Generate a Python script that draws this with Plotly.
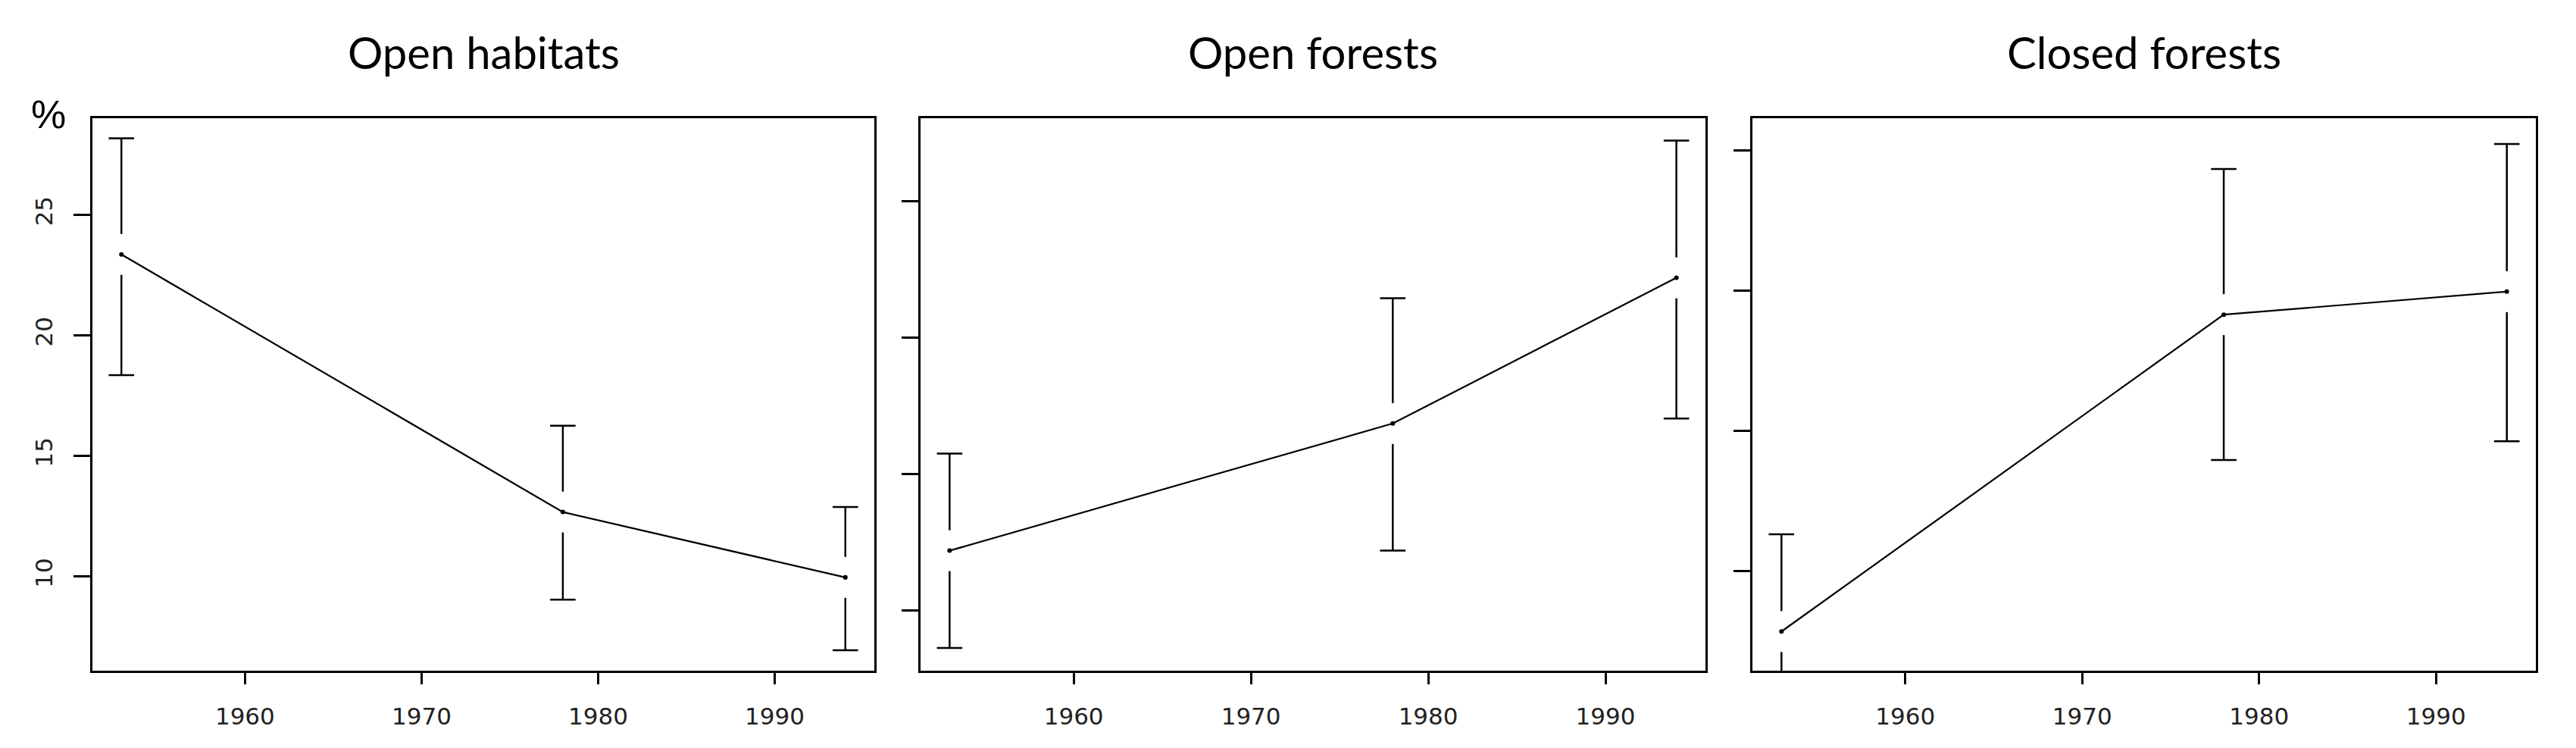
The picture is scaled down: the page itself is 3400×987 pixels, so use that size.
import plotly.graph_objects as go

# ---------------- data ----------------
years = [1953, 1978, 1994]
titles = ["Open habitats", "Open forests", "Closed forests"]

open_habitats_mean = [23.35, 12.67, 9.96]
open_habitats_low = [18.35, 9.04, 6.94]
open_habitats_high = [28.17, 16.25, 12.88]

open_forests_mean = [12.20, 16.86, 22.20]
open_forests_low = [8.63, 12.20, 17.04]
open_forests_high = [15.76, 21.45, 27.23]

closed_forests_mean = [37.83, 49.14, 49.96]
closed_forests_low = [34.36, 43.95, 44.62]
closed_forests_high = [41.30, 54.34, 55.23]

x_tick_vals = [1960, 1970, 1980, 1990]
y_tick_vals = [[10, 15, 20, 25], [10, 15, 20, 25], [40, 45, 50, 55]]
show_y_labels = [True, False, False]

series = [
    (open_habitats_mean, open_habitats_low, open_habitats_high),
    (open_forests_mean, open_forests_low, open_forests_high),
    (closed_forests_mean, closed_forests_low, closed_forests_high),
]

# ---------------- layout config ----------------
W, H = 3400, 987
x_range = [1951.36, 1995.64]
y_ranges = [[6.09, 29.0], [7.80, 28.05], [36.43, 56.15]]
x_domains_px = [(114, 1146), (1207, 2243), (2305, 3339)]
y_domain = [1 - 877 / H, 1 - 148 / H]
plot_h_px = 877 - 148
gap_px = 27

fig = go.Figure()
layout = dict(
    width=W, height=H,
    margin=dict(l=0, r=0, t=0, b=0),
    paper_bgcolor="white", plot_bgcolor="white",
    showlegend=False,
    annotations=[],
)

tick_font = dict(family="DejaVu Sans", size=31, color="#222")

for i, (mean, low, high) in enumerate(series):
    sfx = "" if i == 0 else str(i + 1)
    xa, ya = "x" + sfx, "y" + sfx
    rng = y_ranges[i]
    gap = gap_px / plot_h_px * (rng[1] - rng[0])

    # error bar segments (with a gap around the mean)
    ex, ey = [], []
    for x, m, lo, hi in zip(years, mean, low, high):
        ex += [x, x, None, x, x, None]
        ey += [hi, m + gap, None, m - gap, lo, None]
    fig.add_trace(go.Scatter(x=ex, y=ey, mode="lines", xaxis=xa, yaxis=ya,
                             line=dict(color="black", width=2.5),
                             hoverinfo="skip"))
    # caps
    fig.add_trace(go.Scatter(x=years + years, y=high + low, mode="markers",
                             xaxis=xa, yaxis=ya,
                             marker=dict(symbol="line-ew", size=24,
                                         line=dict(color="black", width=2.5)),
                             hoverinfo="skip"))
    # mean line
    fig.add_trace(go.Scatter(x=years, y=mean, mode="lines+markers",
                             xaxis=xa, yaxis=ya,
                             line=dict(color="black", width=2.2),
                             marker=dict(color="black", size=6)))

    x0, x1 = x_domains_px[i]
    common = dict(showline=True, mirror=True, linecolor="black", linewidth=3,
                  showgrid=False, zeroline=False, ticks="outside",
                  tickcolor="black", tickwidth=2.5)
    layout["xaxis" + sfx] = dict(
        domain=[x0 / W, x1 / W], range=x_range, anchor=ya,
        tickvals=x_tick_vals, ticklen=15, ticklabelstandoff=16,
        tickfont=tick_font, **common)
    layout["yaxis" + sfx] = dict(
        domain=y_domain, range=rng, anchor=xa,
        tickvals=y_tick_vals[i], ticklen=22, showticklabels=show_y_labels[i],
        tickangle=-90, ticklabelstandoff=16,
        tickfont=tick_font, **common)

    layout["annotations"].append(dict(
        text=titles[i], xref="paper", yref="paper",
        x=(x0 + x1) / 2 / W, y=1 - 96 / H, xanchor="center", yanchor="bottom",
        showarrow=False, yshift=-1,
        font=dict(family="Lato", size=58, color="black")))

layout["annotations"].append(dict(
    text="%", xref="paper", yref="paper", x=56 / W, y=1 - 143 / H,
    xanchor="center", yanchor="middle", showarrow=False,
    font=dict(family="Liberation Sans", size=52, color="black")))

fig.update_layout(**layout)
fig.write_html("out.html")
